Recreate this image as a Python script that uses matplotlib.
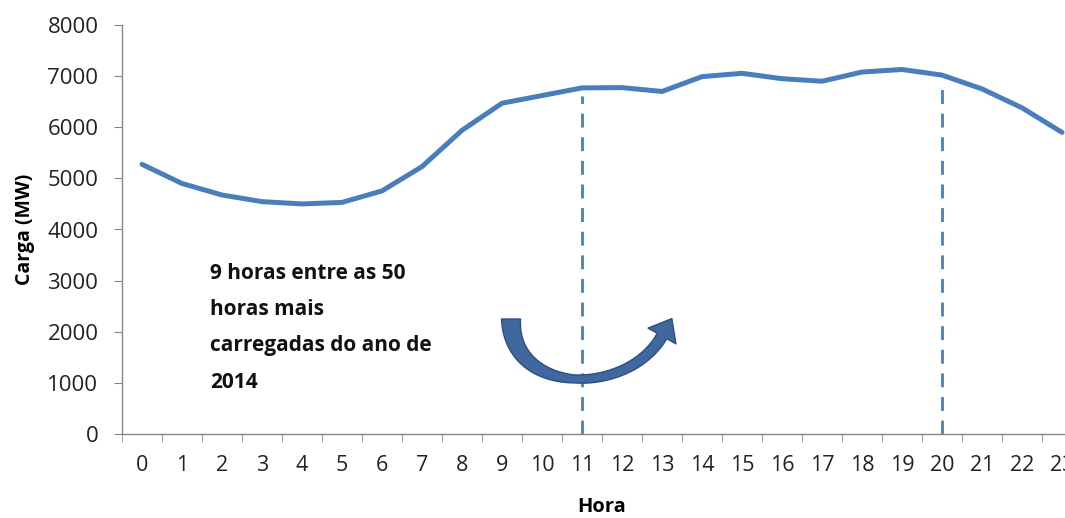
import matplotlib
matplotlib.use("Agg")
import matplotlib.pyplot as plt
import numpy as np
from matplotlib.patches import Polygon
from matplotlib.ticker import FixedLocator

plt.rcParams['font.family'] = ['Open Sans', 'DejaVu Sans']

hours = list(range(24))
hour_labels = [str(h) for h in hours]
carga = [5275, 4900, 4675, 4545, 4500, 4530, 4755, 5230, 5940, 6470, 6620, 6770,
         6775, 6700, 6990, 7055, 6950, 6900, 7080, 7130, 7020, 6750, 6380, 5900]
marked_hours = [11, 20]
annotation = "9 horas entre as 50\nhoras mais\ncarregadas do ano de\n2014"
yticks = [0, 1000, 2000, 3000, 4000, 5000, 6000, 7000, 8000]

blue = '#4a7ebb'
gray = '#868686'

W, H = 1065, 518
fig = plt.figure(figsize=(W / 100, H / 100), dpi=100)
ax = fig.add_axes([122 / W, (H - 434) / H, (1082 - 122) / W, (434 - 25) / H])

ax.plot(hours, carga, color=blue, lw=3.6, solid_capstyle='round', solid_joinstyle='round', zorder=3)
for h in marked_hours:
    ax.vlines(h, 0, carga[h] - 150, colors=blue, lw=2.0, linestyles=(0, (5, 3.5)), zorder=2)

ax.set_xlim(-0.5, 23.5)
ax.set_ylim(0, 8000)
ax.set_yticks(yticks)
ax.set_yticklabels([str(v) for v in yticks])
ax.set_xticks(hours)
ax.set_xticklabels(hour_labels)
ax.xaxis.set_minor_locator(FixedLocator([h - 0.5 for h in hours] + [23.5]))

for s in ['top', 'right']:
    ax.spines[s].set_visible(False)
for s in ['left', 'bottom']:
    ax.spines[s].set_color(gray)
    ax.spines[s].set_linewidth(1.0)

ax.tick_params(axis='y', which='major', length=6, color=gray, pad=11, labelsize=16, labelcolor='#222222')
ax.tick_params(axis='x', which='major', length=0, pad=15, labelsize=15.5, labelcolor='#222222')
ax.tick_params(axis='x', which='minor', length=6, color=gray)

ax.set_ylabel('Carga (MW)', fontsize=14, fontweight='bold', labelpad=9)
ax.set_xlabel('Hora', fontsize=14.5, fontweight='bold', labelpad=15)

fig.text(210 / W, 1 - 263 / H, annotation, fontsize=15, fontweight='bold',
         ha='left', va='top', linespacing=1.95, color='#111111')

# curved block arrow (decoration), built in pixel space then mapped to figure fraction
P = np.array([[511, 319], [511, 396], [628, 396], [662, 336]], dtype=float)
t = np.linspace(0, 1, 80)[:, None]
curve = ((1 - t) ** 3) * P[0] + 3 * ((1 - t) ** 2) * t * P[1] + 3 * (1 - t) * t ** 2 * P[2] + t ** 3 * P[3]
deriv = 3 * ((1 - t) ** 2) * (P[1] - P[0]) + 6 * (1 - t) * t * (P[2] - P[1]) + 3 * t ** 2 * (P[3] - P[2])
tang = deriv / np.linalg.norm(deriv, axis=1, keepdims=True)
norm = np.column_stack([-tang[:, 1], tang[:, 0]])
w = np.interp(t[:, 0], [0, 0.5, 1], [19, 8, 11]) / 2
left = curve + norm * w[:, None]
right = curve - norm * w[:, None]
d_end = tang[-1]
n_end = norm[-1]
base = P[3]
tip = base + d_end * 20
b1 = base + n_end * 16
b2 = base - n_end * 16
pts = np.vstack([left, b1, tip, b2, right[::-1]])
pts_fig = np.column_stack([pts[:, 0] / W, 1 - pts[:, 1] / H])
arrow = Polygon(pts_fig, closed=True, transform=fig.transFigure, facecolor='#41679f',
                edgecolor='#2f4f80', lw=1.0, joinstyle='round', zorder=5)
fig.patches.append(arrow)

fig.savefig('out.png', dpi=100)
